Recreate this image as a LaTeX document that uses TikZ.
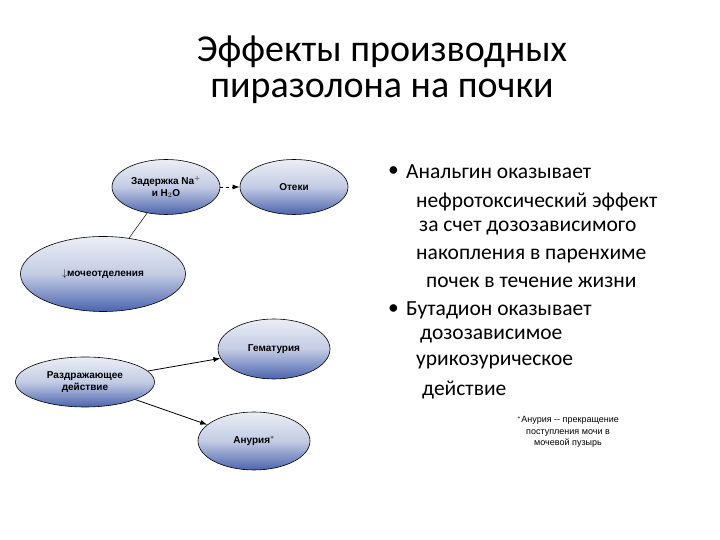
\documentclass[tikz,border=0pt]{standalone}
\usepackage{fontspec}
\setmainfont{Carlito}
\newfontfamily\arialf{Liberation Sans}
\usetikzlibrary{shapes.geometric,arrows.meta}
\definecolor{topc}{RGB}{235,238,245}
\definecolor{botc}{RGB}{75,100,175}
\begin{document}
\begin{tikzpicture}[x=1pt,y=1pt,
  ell/.style={ellipse,draw=black,line width=0.6pt,top color=topc,bottom color=botc,middle color=topc!75!botc,inner sep=0pt,align=center,font=\arialf\bfseries\fontsize{10}{12}\selectfont},
  arr/.style={-{Latex[length=7pt,width=5pt]},line width=0.8pt},
  rt/.style={anchor=west,font=\fontsize{21.5}{24}\selectfont,inner sep=0pt}]
\useasboundingbox (0,0) rectangle (720,540);
\node[font=\fontsize{38}{36}\selectfont,align=center] (title) at (382,470) {Эффекты производных\\пиразолона на почки};
\node[ell,minimum width=108,minimum height=55] (zad) at (166,353) {Задержка Na$^{+}$\\и H$_2$O};
\node[ell,minimum width=108,minimum height=55] (ote) at (294,353) {Отеки};
\node[ell,minimum width=165,minimum height=75] (moch) at (103,266) {$\downarrow$мочеотделения};
\node[ell,minimum width=112,minimum height=60] (gem) at (274,191) {Гематурия};
\node[ell,minimum width=139,minimum height=50] (razd) at (85,158) {Раздражающее\\действие};
\node[ell,minimum width=112,minimum height=58] (anu) at (254,99) {Анурия$^{*}$};
\draw[line width=0.5pt] (zad) -- (moch);
\draw[arr,dashed] (zad) -- (ote);
\draw[arr] (razd) -- (gem);
\draw[arr] (razd) -- (anu);
\node[rt] (b1) at (388,368) {•};
\node[rt] (l1) at (406,368) {Анальгин оказывает};
\node[rt] (l2) at (416,338) {нефротоксический эффект};
\node[rt] (l3) at (419,312) {за счет дозозависимого};
\node[rt] (l4) at (416,284) {накопления в паренхиме};
\node[rt] (l5) at (426,258) {почек в течение жизни};
\node[rt] (b2) at (388,230) {•};
\node[rt] (l6) at (406,230) {Бутадион оказывает};
\node[rt] (l7) at (420,204) {дозозависимое};
\node[rt] (l8) at (416,178) {урикозурическое};
\node[rt] (l9) at (422,150) {действие};
\node[font=\arialf\fontsize{9}{11.5}\selectfont,align=center] (note) at (568,108) {$^{*}$Анурия -- прекращение\\поступления мочи в\\мочевой пузырь};
\end{tikzpicture}
\end{document}
